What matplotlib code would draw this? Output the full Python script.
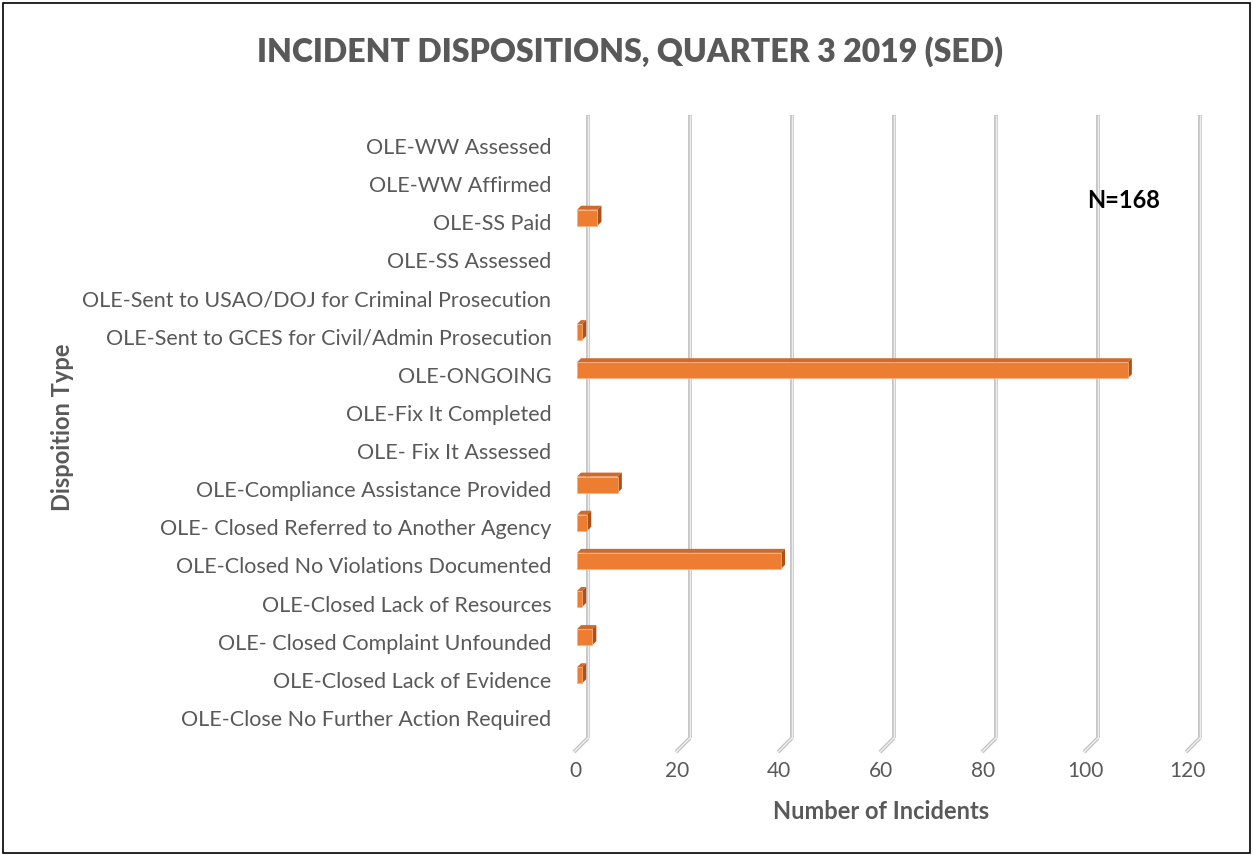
import matplotlib
matplotlib.use("Agg")
import matplotlib.pyplot as plt
import matplotlib.transforms as mtransforms
from matplotlib.patches import Polygon, Rectangle

categories = [
    "OLE-Close No Further Action Required",
    "OLE-Closed Lack of Evidence",
    "OLE- Closed Complaint Unfounded",
    "OLE-Closed Lack of Resources",
    "OLE-Closed No Violations Documented",
    "OLE- Closed Referred to Another Agency",
    "OLE-Compliance Assistance Provided",
    "OLE- Fix It Assessed",
    "OLE-Fix It Completed",
    "OLE-ONGOING",
    "OLE-Sent to GCES for Civil/Admin Prosecution",
    "OLE-Sent to USAO/DOJ for Criminal Prosecution",
    "OLE-SS Assessed",
    "OLE-SS Paid",
    "OLE-WW Affirmed",
    "OLE-WW Assessed",
]
counts = [0, 1, 3, 1, 40, 2, 8, 0, 0, 108, 1, 0, 0, 4, 0, 0]
x_ticks = [0, 20, 40, 60, 80, 100, 120]

GRAY = "#595959"
FRONT = "#ED7D31"
TOP = "#D0692A"
SIDE = "#A9521C"
FONT = "Lato"

W, H, DPI = 1253, 855, 100
fig = plt.figure(figsize=(W / DPI, H / DPI), dpi=DPI)
ax = fig.add_axes([575 / W, 1 - 737 / H, 612 / W, 610 / H])
ax.set_xlim(0, 120)
ax.set_ylim(-0.5, len(categories) - 0.5)

# pixel -> data sizes
px_x = 120 / 612
px_y = len(categories) / 610

# back-wall gridlines with 3D floor diagonal
back = mtransforms.ScaledTranslation(13 / DPI, 0, fig.dpi_scale_trans)
xt = ax.get_xaxis_transform()
for v in x_ticks:
    for lw, c in [(2.8, "#c4c4c4"), (1.0, "#eeeeee")]:
        ax.plot([v, v], [-0.0016, 1.02], color=c, lw=lw, transform=xt + back,
                clip_on=False, solid_capstyle="butt", zorder=1)
        ax.plot([v + 13 * px_x, v - 1 * px_x], [-0.0016, -0.0246], color=c, lw=lw,
                transform=xt, clip_on=False, solid_capstyle="butt", zorder=1)

# 3D bars
bh = 0.42
dx, dy = 4 * px_x, 4 * px_y
for i, v in enumerate(counts):
    if v <= 0:
        continue
    yc = i + 0.12
    y0, y1 = yc - bh / 2, yc + bh / 2
    x0 = 0.4
    x1 = v + 0.4
    ax.add_patch(Polygon([(x0, y1), (x1, y1), (x1 + dx, y1 + dy), (x0 + dx, y1 + dy)],
                         closed=True, facecolor=TOP, edgecolor="none", zorder=3))
    ax.add_patch(Polygon([(x1, y0), (x1 + dx, y0 + dy), (x1 + dx, y1 + dy), (x1, y1)],
                         closed=True, facecolor=SIDE, edgecolor="none", zorder=3))
    ax.add_patch(Rectangle((x0, y0), x1 - x0, bh, facecolor=FRONT,
                           edgecolor="#f4b183", lw=0.5, zorder=4))

ax.set_yticks(range(len(categories)))
ax.set_yticklabels(categories, fontsize=15.5, color=GRAY, family=FONT)
ax.set_xticks(x_ticks)
ax.set_xticklabels([str(t) for t in x_ticks], fontsize=15, color=GRAY, family=FONT)
ax.tick_params(axis="both", length=0)
ax.tick_params(axis="y", pad=17)
ax.tick_params(axis="x", pad=17)
for s in ax.spines.values():
    s.set_visible(False)

ax.set_xlabel("Number of Incidents", fontsize=17, color=GRAY, family=FONT,
              fontweight="bold", labelpad=14)
fig.text(62 / W, 1 - 427 / H, "Dispoition Type", rotation=90, ha="center", va="center",
         fontsize=17, color=GRAY, family=FONT, fontweight="bold")

fig.text(630 / W, 1 - 52 / H, "INCIDENT DISPOSITIONS, QUARTER 3 2019 (SED)",
         ha="center", va="center", fontsize=23, color=GRAY, family=FONT, fontweight="heavy")
fig.text(1124 / W, 1 - 200 / H, "N=168", ha="center", va="center", fontsize=17,
         color="black", family=FONT, fontweight="bold")

fig.patches.append(Rectangle((3 / W, 2 / H), (W - 6) / W, (H - 5) / H, fill=False,
                             edgecolor="black", lw=1.2, transform=fig.transFigure))

fig.savefig("out.png", dpi=DPI)
